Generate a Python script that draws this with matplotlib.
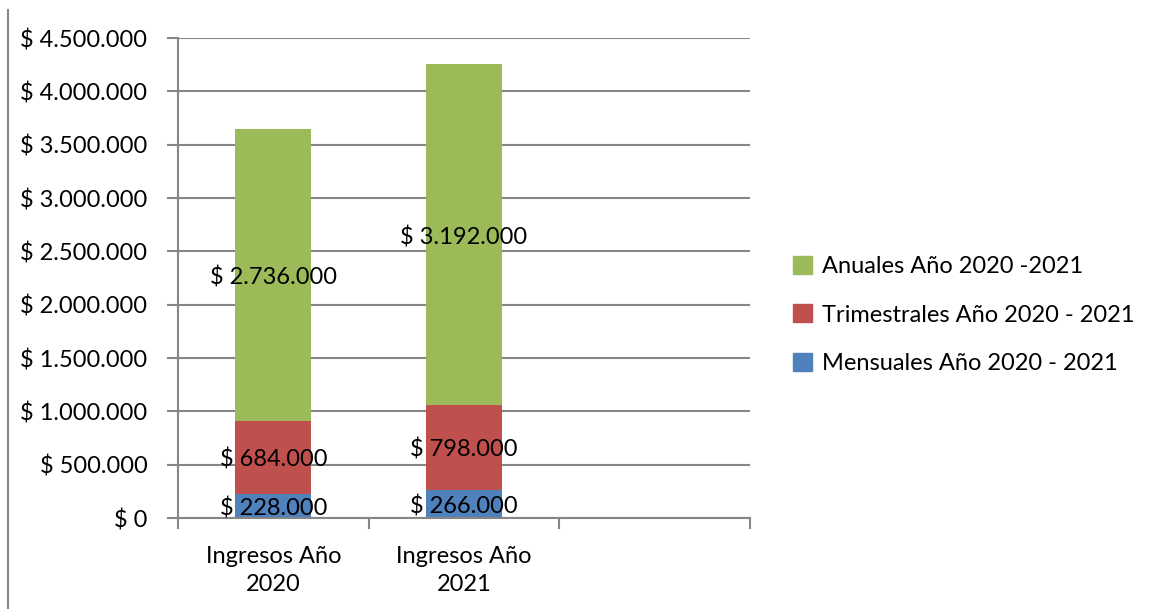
import matplotlib.pyplot as plt
from matplotlib.lines import Line2D
from matplotlib.patches import Patch
from matplotlib.ticker import FuncFormatter

plt.rcParams["font.family"] = ["Lato", "DejaVu Sans"]

categories = ["Ingresos Año\n2020", "Ingresos Año\n2021", ""]
mensuales = [228000, 266000, 0]
trimestrales = [684000, 798000, 0]
anuales = [2736000, 3192000, 0]
series_names = ["Mensuales Año 2020 - 2021", "Trimestrales Año 2020 - 2021", "Anuales Año 2020 -2021"]
colors = ["#4F81BD", "#C0504D", "#9BBB59"]

GRID = "#868686"
FS = 17


def money(v, _pos=None):
    return "$ " + f"{int(v):,}".replace(",", ".")


fig = plt.figure(figsize=(11.56, 6.09), dpi=100)
ax = fig.add_axes([178 / 1156, 1 - 518 / 609, (750 - 178) / 1156, (518 - 38) / 609])

x = range(len(categories))
bottom = [0] * len(categories)
for vals, color in zip([mensuales, trimestrales, anuales], colors):
    ax.bar(x, vals, width=0.4, bottom=bottom, color=color, zorder=2)
    for i, v in enumerate(vals):
        if v:
            ax.annotate(money(v), (i, bottom[i] + v / 2), xytext=(0, -2),
                        textcoords="offset points", ha="center", va="center",
                        fontsize=FS, color="black", zorder=3)
    bottom = [b + v for b, v in zip(bottom, vals)]

ax.set_xlim(-0.5, 2.5)
ax.set_ylim(0, 4500000)
ax.set_yticks(range(0, 4500001, 500000))
ax.yaxis.set_major_formatter(FuncFormatter(money))
ax.grid(axis="y", color=GRID, linewidth=1.5, zorder=1)

ax.set_xticks([-0.5, 0.5, 1.5, 2.5])
ax.set_xticklabels([])
ax.set_xticks(list(x), minor=True)
ax.set_xticklabels(categories, minor=True, fontsize=FS, linespacing=1.45)
ax.tick_params(axis="x", which="minor", length=0, pad=20)
ax.tick_params(axis="x", which="major", length=8, width=1.5, color=GRID)
ax.tick_params(axis="y", length=8, width=1.5, color=GRID, labelsize=FS, pad=14)

for side in ["top", "right"]:
    ax.spines[side].set_visible(False)
for side in ["left", "bottom"]:
    ax.spines[side].set_color(GRID)
    ax.spines[side].set_linewidth(1.5)

# thin frame line at the far left of the figure
fig.add_artist(Line2D([8 / 1156, 8 / 1156], [0, 1 - 10 / 609], color=GRID, linewidth=1.5))

handles = [Patch(color=c) for c in colors][::-1]
fig.legend(handles, series_names[::-1], loc="center left",
           bbox_to_anchor=(772 / 1156, 1 - 315 / 609), frameon=False,
           fontsize=FS, handlelength=0.8, handleheight=0.8, handletextpad=0.4,
           labelspacing=1.15)

fig.savefig("out.png", dpi=100)
